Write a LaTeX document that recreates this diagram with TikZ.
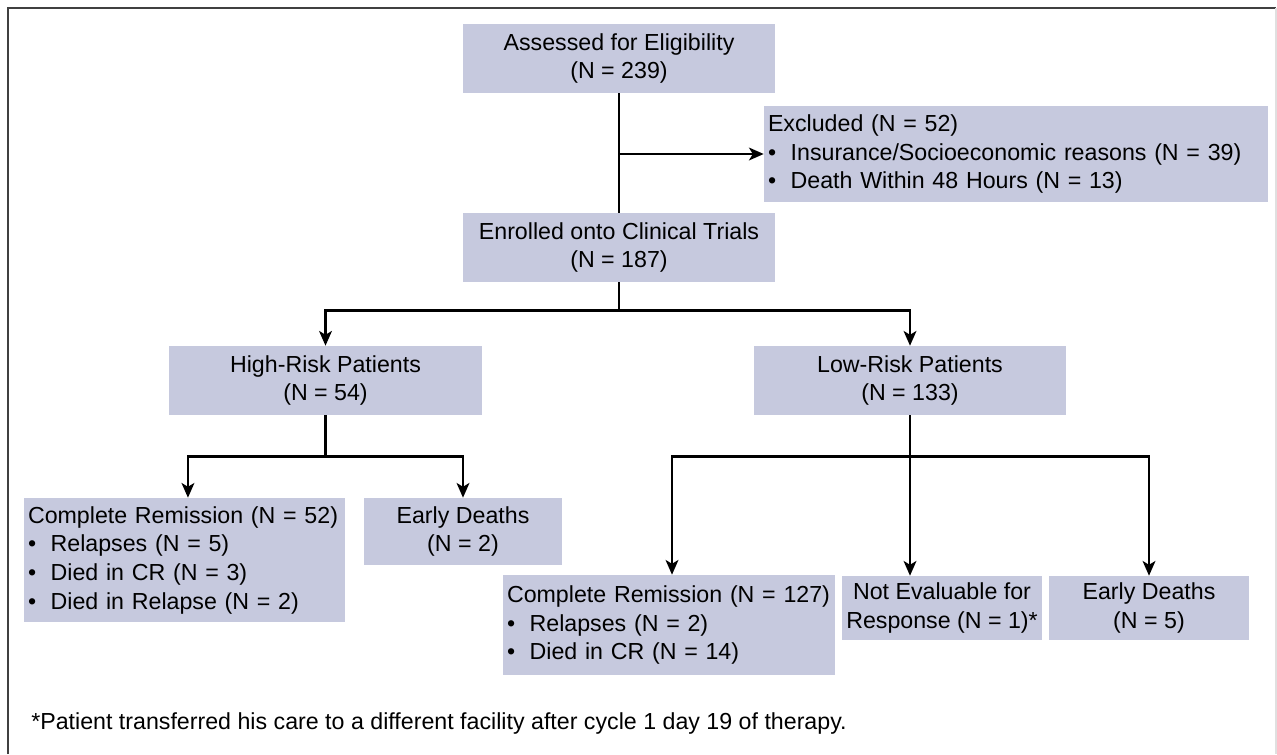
\documentclass[tikz,border=0pt]{standalone}
\usepackage{fontspec}
\setmainfont{Liberation Sans}
\usetikzlibrary{arrows.meta}
\definecolor{boxfill}{RGB}{198,201,222}
\begin{document}
\begin{tikzpicture}[x=0.75pt,y=-0.75pt,
  font=\fontsize{17.4pt}{21.5pt}\selectfont,
  boxc/.style={fill=boxfill, draw=none, align=center, inner sep=0pt},
  boxl/.style={fill=boxfill, draw=none, align=left, inner xsep=3pt, inner ysep=0pt},
  conn/.style={line width=2.1pt, black},
  arr/.style={conn, -{Stealth[length=11pt,width=9.5pt,inset=2.8pt]}},
  frameline/.style={line width=0.9pt, black!75}]
\useasboundingbox (0,0) rectangle (1277,754);
\draw[frameline] (8,754) -- (8,8) -- (1276,8);
\draw[line width=0.9pt, black!12] (1276,8) -- (1276,754);

\node[boxc, minimum width=234pt, minimum height=51.75pt] (assess) at (619,58.5)
  {Assessed for Eligibility\\(N = 239)};
\node[boxl, text width=372pt, minimum height=72pt] (excl) at (1016,154)
  {Excluded (N = 52)\\
   \makebox[17pt][l]{\textbullet}Insurance/Socioeconomic reasons (N = 39)\\
   \makebox[17pt][l]{\textbullet}Death Within 48 Hours (N = 13)};
\node[boxc, minimum width=234pt, minimum height=51.75pt] (enrol) at (619,247.5)
  {Enrolled onto Clinical Trials\\(N = 187)};
\node[boxc, minimum width=234.75pt, minimum height=51.75pt] (high) at (325.5,380.5)
  {High-Risk Patients\\(N = 54)};
\node[boxc, minimum width=234pt, minimum height=51.75pt] (low) at (910,380.5)
  {Low-Risk Patients\\(N = 133)};
\node[boxl, text width=234.75pt, minimum height=93pt] (cr52) at (184.5,560)
  {Complete Remission (N = 52)\\
   \makebox[17pt][l]{\textbullet}Relapses (N = 5)\\
   \makebox[17pt][l]{\textbullet}Died in CR (N = 3)\\
   \makebox[17pt][l]{\textbullet}Died in Relapse (N = 2)};
\node[boxc, minimum width=148.5pt, minimum height=50.25pt] (ed2) at (463,531.5)
  {Early Deaths\\(N = 2)};
\node[boxl, text width=243pt, minimum height=75pt] (cr127) at (669,625)
  {Complete Remission (N = 127)\\
   \makebox[17pt][l]{\textbullet}Relapses (N = 2)\\
   \makebox[17pt][l]{\textbullet}Died in CR (N = 14)};
\node[boxc, minimum width=150pt, minimum height=48pt] (ne) at (942,608)
  {Not Evaluable for\\Response (N = 1)*};
\node[boxc, minimum width=150pt, minimum height=48pt] (ed5) at (1149,608)
  {Early Deaths\\(N = 5)};
\node[anchor=west, inner sep=0pt] (foot) at (31,723)
  {*Patient transferred his care to a different facility after cycle 1 day 19 of therapy.};

\draw[conn] (assess.south) -- (enrol.north);
\draw[arr] (assess.south |- excl.west) -- (excl.west);
\draw[conn] (enrol.south) -- ++(0,28) coordinate (b1);
\draw[arr] (b1) -| (high.north);
\draw[arr] (b1) -| (low.north);
\draw[conn] (high.south) -- ++(0,41) coordinate (b2);
\draw[arr] (b2) -| ([xshift=2.6pt]cr52.north);
\draw[arr] (b2) -| (ed2.north);
\draw[conn] (low.south) -- ++(0,41) coordinate (b3);
\draw[arr] (b3) -| ([xshift=2.25pt]cr127.north);
\draw[arr] (b3) -- (b3 |- ne.north);
\draw[arr] (b3) -| (ed5.north);
\end{tikzpicture}
\end{document}
